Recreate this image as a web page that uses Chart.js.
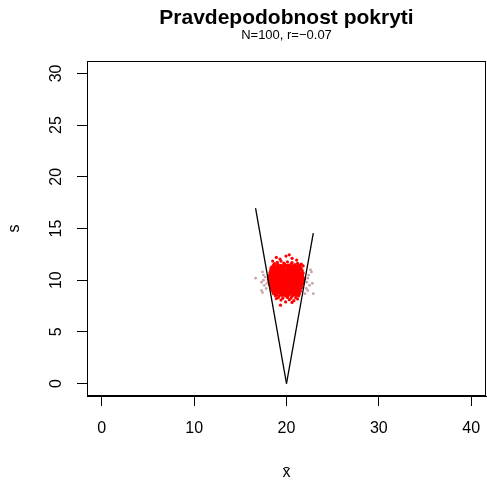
<!DOCTYPE html>
<html>
<head>
<meta charset="utf-8">
<script src="https://cdn.jsdelivr.net/npm/chart.js@4/dist/chart.umd.min.js"></script>
<style>html,body{margin:0;padding:0;background:#fff}</style>
</head>
<body>
<canvas id="c" width="487" height="484"></canvas>
<script>
const xTicks = [0, 10, 20, 30, 40];
const yTicks = [0, 5, 10, 15, 20, 25, 30];

// the V of the coverage region
const leftLineX = [20, 16.65];
const leftLineY = [0, 16.97];
const rightLineX = [20, 22.9];
const rightLineY = [0, 14.55];

// samples that cover (red), row by row
const redX = [
  19.95, 18.5, 20.6, 19.3, 21.1, 18.9, 20.3,
  19.0, 19.7, 20.1, 20.6, 21.2, 19.4, 18.7,
  18.6, 19.1, 19.4, 19.8, 20.2, 20.5, 20.9, 21.3, 21.6,
  18.4, 18.8, 19.2, 19.5, 19.9, 20.2, 20.6, 20.9, 21.2, 21.5, 21.8,
  18.3, 18.7, 19.0, 19.3, 19.6, 20.0, 20.3, 20.6, 20.9, 21.2, 21.6,
  18.25, 18.6, 18.9, 19.2, 19.5, 19.8, 20.1, 20.4, 20.7, 21.0, 21.3, 21.7,
  18.2, 18.5, 18.8, 19.1, 19.4, 19.7, 20.0, 20.3, 20.6, 20.9, 21.2, 21.5, 21.8,
  18.15, 18.4, 18.7, 19.0, 19.3, 19.6, 19.9, 20.2, 20.5, 20.8, 21.1, 21.4, 21.75,
  18.1, 18.4, 18.7, 19.0, 19.3, 19.6, 19.9, 20.2, 20.5, 20.8, 21.1, 21.4, 21.8,
  18.05, 18.3, 18.6, 18.9, 19.2, 19.5, 19.8, 20.1, 20.4, 20.7, 21.0, 21.3, 21.6, 21.9,
  18.1, 18.4, 18.7, 19.0, 19.3, 19.6, 19.9, 20.2, 20.5, 20.8, 21.1, 21.4, 21.75,
  18.15, 18.5, 18.8, 19.1, 19.4, 19.7, 20.0, 20.3, 20.6, 20.9, 21.2, 21.5, 21.8,
  18.2, 18.5, 18.8, 19.1, 19.4, 19.7, 20.0, 20.3, 20.6, 20.9, 21.2, 21.6,
  18.3, 18.6, 18.9, 19.2, 19.5, 19.8, 20.1, 20.4, 20.7, 21.0, 21.3, 21.65,
  18.4, 18.7, 19.0, 19.3, 19.6, 19.9, 20.2, 20.5, 20.8, 21.1, 21.5,
  18.5, 18.8, 19.1, 19.4, 19.7, 20.0, 20.3, 20.6, 20.9, 21.2, 21.5,
  18.6, 18.9, 19.3, 19.6, 19.9, 20.2, 20.5, 20.8, 21.1, 21.4,
  18.8, 19.2, 19.5, 19.9, 20.2, 20.6, 21.0, 21.3,
  19.1, 19.6, 20.1, 20.5, 21.0, 18.9,
  19.4, 20.3, 20.8, 21.2, 19.35, 19.9, 20.6
];
const redY = [
  12.33, 11.85, 12.12, 12.05, 11.95, 12.2, 12.45,
  11.72, 11.66, 11.78, 11.7, 11.64, 11.85, 11.6,
  11.48, 11.52, 11.44, 11.55, 11.47, 11.58, 11.5, 11.42, 11.55,
  11.3, 11.25, 11.34, 11.28, 11.32, 11.24, 11.35, 11.27, 11.33, 11.26, 11.38,
  11.12, 11.05, 11.14, 11.08, 11.13, 11.06, 11.15, 11.09, 11.12, 11.04, 11.1,
  10.88, 10.94, 10.86, 10.92, 10.87, 10.95, 10.89, 10.93, 10.85, 10.91, 10.88, 10.94,
  10.72, 10.66, 10.74, 10.68, 10.73, 10.65, 10.71, 10.67, 10.75, 10.69, 10.72, 10.66, 10.7,
  10.5, 10.45, 10.54, 10.47, 10.52, 10.46, 10.55, 10.48, 10.53, 10.44, 10.51, 10.47, 10.53,
  10.28, 10.33, 10.26, 10.32, 10.27, 10.34, 10.29, 10.31, 10.25, 10.33, 10.28, 10.32, 10.27,
  10.1, 10.06, 10.13, 10.07, 10.12, 10.05, 10.14, 10.08, 10.11, 10.04, 10.12, 10.07, 10.13, 10.09,
  9.9, 9.86, 9.93, 9.87, 9.92, 9.85, 9.94, 9.88, 9.91, 9.86, 9.93, 9.89, 9.92,
  9.72, 9.67, 9.74, 9.68, 9.73, 9.66, 9.71, 9.65, 9.74, 9.69, 9.72, 9.67, 9.7,
  9.5, 9.46, 9.53, 9.47, 9.52, 9.45, 9.54, 9.48, 9.51, 9.46, 9.53, 9.49,
  9.3, 9.26, 9.33, 9.27, 9.32, 9.25, 9.34, 9.28, 9.31, 9.26, 9.33, 9.29,
  9.1, 9.06, 9.13, 9.07, 9.12, 9.05, 9.14, 9.08, 9.11, 9.06, 9.12,
  8.9, 8.86, 8.93, 8.87, 8.92, 8.85, 8.94, 8.88, 8.91, 8.86, 8.92,
  8.7, 8.66, 8.73, 8.67, 8.72, 8.65, 8.74, 8.68, 8.71, 8.66,
  8.5, 8.46, 8.53, 8.47, 8.52, 8.45, 8.54, 8.48,
  8.3, 8.26, 8.33, 8.27, 8.31, 8.22,
  8.08, 8.12, 8.02, 8.18, 7.58, 7.9, 7.85
];

// more covering samples in the dense core, between the rows above
const coreX = [
  18.6, 18.95, 19.3, 19.65, 20.05, 20.35, 20.75, 21.05, 21.4,
  18.55, 18.85, 19.15, 19.45, 19.75, 20.15, 20.45, 20.75, 21.05, 21.4,
  18.45, 18.75, 19.05, 19.35, 19.65, 19.95, 20.25, 20.55, 20.85, 21.15, 21.5,
  18.35, 18.65, 18.95, 19.25, 19.55, 19.85, 20.15, 20.45, 20.75, 21.05, 21.35, 21.65,
  18.3, 18.55, 18.85, 19.15, 19.45, 19.75, 20.05, 20.35, 20.65, 20.95, 21.25, 21.6,
  18.25, 18.55, 18.85, 19.15, 19.45, 19.75, 20.05, 20.35, 20.65, 20.95, 21.25, 21.6,
  18.2, 18.5, 18.8, 19.1, 19.4, 19.7, 20.0, 20.3, 20.6, 20.9, 21.2, 21.5, 21.75,
  18.25, 18.55, 18.85, 19.15, 19.45, 19.75, 20.05, 20.35, 20.65, 20.95, 21.25, 21.55, 21.85,
  18.3, 18.6, 18.9, 19.2, 19.5, 19.8, 20.1, 20.4, 20.7, 21.0, 21.3, 21.6,
  18.35, 18.65, 18.95, 19.25, 19.55, 19.85, 20.15, 20.45, 20.75, 21.05, 21.35, 21.65,
  18.4, 18.7, 19.0, 19.3, 19.6, 19.9, 20.2, 20.5, 20.8, 21.1, 21.45,
  18.5, 18.85, 19.15, 19.45, 19.75, 20.05, 20.35, 20.65, 20.95, 21.3,
  18.6, 18.95, 19.25, 19.55, 19.85, 20.15, 20.45, 20.75, 21.05, 21.35,
  18.75, 19.1, 19.45, 19.75, 20.05, 20.35, 20.65, 21.0, 21.3,
  18.95, 19.35, 19.7, 20.05, 20.4, 20.75, 21.15
];
const coreY = [
  11.38, 11.43, 11.36, 11.41, 11.44, 11.37, 11.42, 11.39, 11.43,
  11.18, 11.23, 11.16, 11.21, 11.24, 11.17, 11.22, 11.19, 11.23, 11.18,
  10.98, 11.03, 10.96, 11.01, 11.04, 10.97, 11.02, 10.99, 11.03, 10.98, 11.04,
  10.78, 10.83, 10.76, 10.81, 10.84, 10.77, 10.82, 10.79, 10.83, 10.78, 10.84, 10.77,
  10.58, 10.63, 10.56, 10.61, 10.64, 10.57, 10.62, 10.59, 10.63, 10.58, 10.64, 10.57,
  10.38, 10.43, 10.36, 10.41, 10.44, 10.37, 10.42, 10.39, 10.43, 10.38, 10.44, 10.37,
  10.18, 10.23, 10.16, 10.21, 10.24, 10.17, 10.22, 10.19, 10.23, 10.18, 10.24, 10.17, 10.21,
  9.98, 10.03, 9.96, 10.01, 10.04, 9.97, 10.02, 9.99, 10.03, 9.98, 10.04, 9.97, 10.01,
  9.78, 9.83, 9.76, 9.81, 9.84, 9.77, 9.82, 9.79, 9.83, 9.78, 9.84, 9.77,
  9.58, 9.63, 9.56, 9.61, 9.64, 9.57, 9.62, 9.59, 9.63, 9.58, 9.64, 9.57,
  9.38, 9.43, 9.36, 9.41, 9.44, 9.37, 9.42, 9.39, 9.43, 9.38, 9.44,
  9.18, 9.23, 9.16, 9.21, 9.24, 9.17, 9.22, 9.19, 9.23, 9.18,
  8.98, 9.03, 8.96, 9.01, 9.04, 8.97, 9.02, 8.99, 9.03, 8.98,
  8.78, 8.83, 8.76, 8.81, 8.84, 8.77, 8.82, 8.79, 8.83,
  8.58, 8.63, 8.56, 8.61, 8.64, 8.57, 8.62
];

// samples that miss (grey)
const grayX = [16.65, 17.4, 17.5, 17.3, 17.4, 17.6, 17.8, 17.3, 17.5, 17.7, 17.9,
               22.7, 22.3, 22.8, 22.9, 22.5, 22.15, 22.3, 22.0, 22.4, 22.6, 22.2];
const grayY = [10.2, 10.8, 10.5, 9.8, 8.8, 9.5, 9.2, 9.0, 10.0, 10.3, 9.7,
               10.8, 10.2, 9.7, 8.7, 9.5, 9.2, 9.0, 8.7, 10.5, 11.0, 9.8];

const titleText = 'Pravdepodobnost pokryti';
const subText = 'N=100, r=\u22120.07';
const xLabel = 'x\u0304';
const yLabel = 's';

function pts(xs, ys) { return xs.map((x, i) => ({ x: x, y: ys[i] })); }

const FONT = '"Liberation Sans", Arial, Helvetica, sans-serif';

const rPlot = {
  id: 'rPlot',
  afterDraw(chart) {
    const ctx = chart.ctx;
    const a = chart.chartArea;
    const xs = chart.scales.x, ys = chart.scales.y;
    ctx.save();
    ctx.strokeStyle = '#000';
    ctx.lineWidth = 1;
    ctx.strokeRect(a.left + 0.5, a.top + 0.5, a.right - a.left - 1, a.bottom - a.top - 1);
    ctx.fillStyle = '#000';
    ctx.font = '16px ' + FONT;
    ctx.textAlign = 'center';
    ctx.textBaseline = 'middle';
    xTicks.forEach(v => ctx.fillText(String(v), xs.getPixelForValue(v), 429));
    yTicks.forEach(v => {
      ctx.save();
      ctx.translate(57, ys.getPixelForValue(v));
      ctx.rotate(-Math.PI / 2);
      ctx.fillText(String(v), 0, 0);
      ctx.restore();
    });
    ctx.fillText(xLabel, (a.left + a.right) / 2, 473);
    ctx.save();
    ctx.translate(15, (a.top + a.bottom) / 2);
    ctx.rotate(-Math.PI / 2);
    ctx.fillText(yLabel, 0, 0);
    ctx.restore();
    ctx.font = 'bold 21px ' + FONT;
    ctx.fillText(titleText, (a.left + a.right) / 2, 18);
    ctx.font = '13px ' + FONT;
    ctx.fillText(subText, (a.left + a.right) / 2, 35);
    ctx.restore();
  }
};

new Chart(document.getElementById('c'), {
  type: 'scatter',
  data: {
    datasets: [
      { data: pts(leftLineX, leftLineY), showLine: true, borderColor: '#000', borderWidth: 1.3, pointRadius: 0, order: 0 },
      { data: pts(rightLineX, rightLineY), showLine: true, borderColor: '#000', borderWidth: 1.3, pointRadius: 0, order: 0 },
      { data: pts(redX, redY).concat(pts(coreX, coreY)), backgroundColor: '#ff0000', borderWidth: 0, pointRadius: 1.6, order: 1 },
      { data: pts(grayX, grayY), backgroundColor: '#c9a3a8', borderWidth: 0, pointRadius: 1.4, order: 2 }
    ]
  },
  options: {
    responsive: false,
    animation: false,
    devicePixelRatio: 1,
    layout: { autoPadding: false, padding: { top: 61, right: 1, left: 0, bottom: 0 } },
    plugins: { legend: { display: false }, tooltip: { enabled: false } },
    scales: {
      x: {
        type: 'linear', min: -1.6, max: 41.6,
        afterBuildTicks: s => { s.ticks = xTicks.map(v => ({ value: v })); },
        afterFit: s => { s.height = 88; },
        ticks: { display: false },
        grid: { drawOnChartArea: false, drawTicks: true, tickLength: 10, color: '#000' },
        border: { display: true, color: '#000' }
      },
      y: {
        type: 'linear', min: -1.2, max: 31.2,
        afterBuildTicks: s => { s.ticks = yTicks.map(v => ({ value: v })); },
        afterFit: s => { s.width = 87; },
        ticks: { display: false },
        grid: { drawOnChartArea: false, drawTicks: true, tickLength: 10, color: '#000' },
        border: { display: true, color: '#000' }
      }
    }
  },
  plugins: [rPlot]
});
</script>
</body>
</html>
